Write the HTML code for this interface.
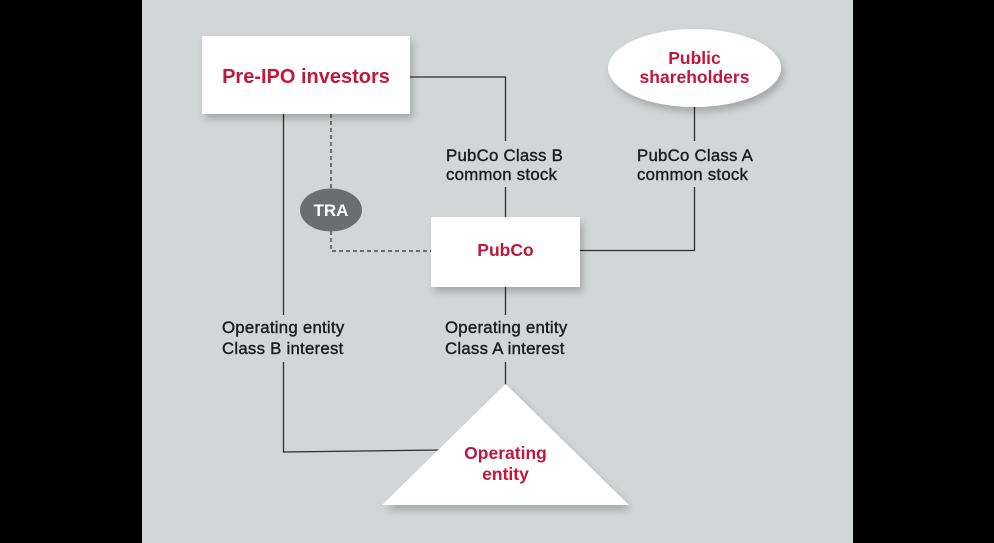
<!DOCTYPE html>
<html><head><meta charset="utf-8"><style>
html,body{margin:0;padding:0;background:#000;}
body{width:994px;height:543px;overflow:hidden;}
svg{display:block;}
.lbl{font-family:"Liberation Sans",sans-serif;font-size:16.8px;letter-spacing:0.25px;fill:#1c1c1c;stroke:#1c1c1c;stroke-width:0.4px;}
.red{font-family:"Liberation Sans",sans-serif;font-weight:bold;fill:#c2163c;}
</style></head><body>
<svg width="994" height="543" viewBox="0 0 994 543" xmlns="http://www.w3.org/2000/svg">
<defs>
<filter id="sh" x="-20%" y="-20%" width="150%" height="160%">
<feGaussianBlur in="SourceAlpha" stdDeviation="4"/>
<feOffset dx="3" dy="5" result="b"/>
<feComponentTransfer><feFuncA type="linear" slope="0.22"/></feComponentTransfer>
<feMerge><feMergeNode/><feMergeNode in="SourceGraphic"/></feMerge>
</filter>
</defs>
<rect x="0" y="0" width="994" height="543" fill="#000"/>
<rect x="142" y="0" width="711" height="543" fill="#d3d6d6"/>

<!-- solid connectors -->
<g stroke="#2e2e2e" stroke-width="1.3" fill="none">
<polyline points="410,77 505.5,77 505.5,141"/>
<line x1="505.5" y1="187" x2="505.5" y2="217"/>
<polyline points="580,250.5 694.5,250.5 694.5,187"/>
<line x1="694.5" y1="141" x2="694.5" y2="107"/>
<line x1="505.5" y1="287" x2="505.5" y2="315"/>
<line x1="505.5" y1="362" x2="505.5" y2="385"/>
<line x1="283.5" y1="114" x2="283.5" y2="315"/>
<polyline points="283.5,362 283.5,452 440,450"/>
</g>
<!-- dashed -->
<g stroke="#2e2e2e" stroke-width="1.2" fill="none" stroke-dasharray="4,3">
<line x1="331" y1="114" x2="331" y2="189"/>
<polyline points="331,231 331,251 431,251"/>
</g>

<!-- nodes -->
<rect x="202" y="36" width="208" height="78" fill="#fff" filter="url(#sh)"/>
<ellipse cx="694.5" cy="68" rx="86.5" ry="39" fill="#fff" filter="url(#sh)"/>
<rect x="431" y="217" width="149" height="70" fill="#fff" filter="url(#sh)"/>
<polygon points="505.5,384 629,505 382,505" fill="#fff" filter="url(#sh)"/>
<ellipse cx="331" cy="210" rx="31" ry="21.5" fill="#6a6e6e"/>

<!-- node text -->
<text class="red" x="306" y="83" font-size="20" text-anchor="middle">Pre-IPO investors</text>
<text class="red" x="694.5" y="64" font-size="17.5" text-anchor="middle">Public</text>
<text class="red" x="694.5" y="83" font-size="17.5" text-anchor="middle">shareholders</text>
<text class="red" x="505.5" y="256" font-size="17.5" text-anchor="middle">PubCo</text>
<text class="red" x="505.5" y="459" font-size="17.5" text-anchor="middle">Operating</text>
<text class="red" x="505.5" y="480" font-size="17.5" text-anchor="middle">entity</text>
<text x="331" y="216" font-family="Liberation Sans, sans-serif" font-weight="bold" font-size="17" fill="#fff" text-anchor="middle">TRA</text>

<!-- labels -->
<text class="lbl" x="446" y="161">PubCo Class B</text>
<text class="lbl" x="446" y="180">common stock</text>
<text class="lbl" x="637" y="161">PubCo Class A</text>
<text class="lbl" x="637" y="180">common stock</text>
<text class="lbl" x="222" y="333">Operating entity</text>
<text class="lbl" x="222" y="354">Class B interest</text>
<text class="lbl" x="445" y="333">Operating entity</text>
<text class="lbl" x="445" y="354">Class A interest</text>
</svg>
</body></html>
